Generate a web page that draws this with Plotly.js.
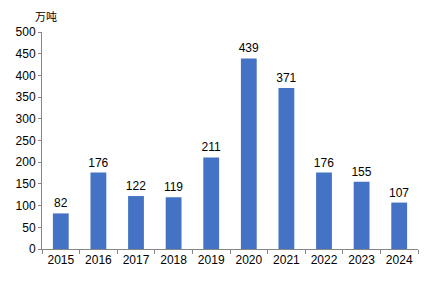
<!DOCTYPE html>
<html><head><meta charset="utf-8">
<script src="https://cdn.plot.ly/plotly-3.0.1.min.js"></script>
<style>html,body{margin:0;padding:0;background:#fff}</style>
</head><body><div id="c" style="width:434px;height:283px"></div>
<script>
const years = ['2015','2016','2017','2018','2019','2020','2021','2022','2023','2024'];
const values = [82,176,122,119,211,439,371,176,155,107];
const yTicks = [0,50,100,150,200,250,300,350,400,450,500];
const unitLabel = '万吨';

Plotly.newPlot('c', [{
  type: 'bar', x: years, y: values,
  marker: {color: '#4472C4'},
  text: values.map(String), textposition: 'outside', cliponaxis: false,
  constraintext: 'none',
  textfont: {family: 'Liberation Sans, Arial', size: 12, color: '#000'},
  width: 0.42
}], {
  width: 434, height: 283,
  margin: {l: 42, r: 16, t: 32, b: 34},
  paper_bgcolor: '#fff', plot_bgcolor: '#fff',
  showlegend: false,
  font: {family: 'Liberation Sans, Arial', size: 12, color: '#000'},
  xaxis: {type: 'category', showline: true, linecolor: '#868686', linewidth: 1,
    ticks: 'outside', tickson: 'boundaries', ticklen: 4, tickcolor: '#868686',
    showgrid: false, tickfont: {size: 12}},
  yaxis: {range: [0, 500], tickvals: yTicks, showline: true, linecolor: '#868686', linewidth: 1,
    ticks: 'outside', ticklen: 3, tickcolor: '#868686', showgrid: false, zeroline: false,
    tickfont: {size: 12}},
  annotations: [{text: unitLabel, xref: 'paper', yref: 'paper', x: 0, y: 1, xanchor: 'center', yanchor: 'bottom',
    xshift: 4, yshift: 6, showarrow: false, font: {family: 'Noto Sans CJK SC', size: 11, color: '#000'}}]
}, {displayModeBar: false, staticPlot: true});
</script></body></html>
